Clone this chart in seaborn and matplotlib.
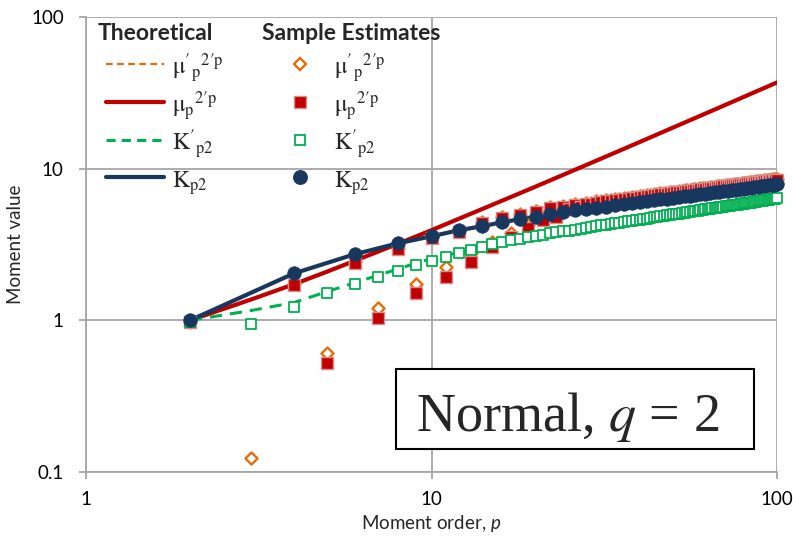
import numpy as np
import pandas as pd
import matplotlib
matplotlib.use("Agg")
import matplotlib.pyplot as plt
import seaborn as sns
from matplotlib.lines import Line2D
from matplotlib.patches import Rectangle
from matplotlib.font_manager import FontProperties
from matplotlib.ticker import NullLocator

# ---------------- data ----------------
p_all = list(range(2, 101))
p_even = list(range(2, 101, 2))

# Sample estimates
mu_raw_sample = [0.98, 0.123, 1.73, 0.61, 2.42, 1.20, 2.99, 1.73, 3.54, 2.24,
                 3.86, 2.80, 4.44, 3.28, 4.79, 3.78, 5.02, 4.27, 5.26, 4.80,
                 5.58, 5.00, 5.70, 5.55, 5.84, 5.75, 5.96, 5.93, 6.08,
                 6.14, 6.19, 6.25, 6.30, 6.35, 6.40, 6.45, 6.50, 6.55, 6.60,
                 6.65, 6.69, 6.74, 6.78, 6.82, 6.87, 6.91, 6.95, 6.99, 7.03,
                 7.07, 7.11, 7.15, 7.19, 7.22, 7.26, 7.30, 7.33, 7.37, 7.40,
                 7.44, 7.47, 7.51, 7.54, 7.57, 7.61, 7.64, 7.67, 7.70, 7.74,
                 7.77, 7.80, 7.83, 7.86, 7.89, 7.92, 7.95, 7.98, 8.01, 8.03,
                 8.06, 8.09, 8.12, 8.15, 8.17, 8.20, 8.23, 8.26, 8.28, 8.31,
                 8.33, 8.36, 8.39, 8.41, 8.44, 8.46, 8.49, 8.51, 8.54, 8.56]

mu_sample = [0.97, np.nan, 1.70, 0.52, 2.38, 1.03, 2.94, 1.51, 3.48, 1.92,
             3.80, 2.42, 4.37, 3.03, 4.71, 3.53, 4.94, 4.05, 5.17, 4.57,
             5.49, 4.79, 5.61, 5.40, 5.74, 5.62, 5.86, 5.82, 5.98,
             6.04, 6.09, 6.15, 6.20, 6.25, 6.30, 6.35, 6.40, 6.45, 6.50,
             6.55, 6.59, 6.64, 6.68, 6.72, 6.77, 6.81, 6.85, 6.89, 6.93,
             6.97, 7.01, 7.05, 7.09, 7.12, 7.16, 7.20, 7.23, 7.27, 7.30,
             7.34, 7.37, 7.41, 7.44, 7.47, 7.51, 7.54, 7.57, 7.60, 7.64,
             7.67, 7.70, 7.73, 7.76, 7.79, 7.82, 7.85, 7.88, 7.91, 7.93,
             7.96, 7.99, 8.02, 8.05, 8.07, 8.10, 8.13, 8.16, 8.18, 8.21,
             8.23, 8.26, 8.29, 8.31, 8.34, 8.36, 8.39, 8.41, 8.44, 8.46]

kprime_sample = [0.97, 0.95, 1.22, 1.51, 1.73, 1.92, 2.11, 2.31, 2.45, 2.60,
                 2.78, 2.91, 3.04, 3.17, 3.27, 3.37, 3.46, 3.54, 3.62,
                 3.68, 3.74, 3.80, 3.86, 3.91, 3.97, 4.02, 4.07, 4.12, 4.17,
                 4.22, 4.27, 4.31, 4.36, 4.40, 4.45, 4.49, 4.53, 4.57, 4.61,
                 4.65, 4.69, 4.73, 4.77, 4.81, 4.85, 4.88, 4.92, 4.95, 4.99,
                 5.02, 5.06, 5.09, 5.13, 5.16, 5.19, 5.22, 5.25, 5.29, 5.32,
                 5.35, 5.38, 5.41, 5.44, 5.47, 5.50, 5.53, 5.56, 5.58, 5.61,
                 5.64, 5.67, 5.70, 5.72, 5.75, 5.78, 5.80, 5.83, 5.86, 5.88,
                 5.91, 5.93, 5.96, 5.98, 6.01, 6.03, 6.06, 6.08, 6.10, 6.13,
                 6.15, 6.18, 6.20, 6.22, 6.24, 6.27, 6.29, 6.31, 6.34, 6.37]

k_sample = [1.00, 2.04, 2.73, 3.22, 3.58, 3.93, 4.17, 4.43, 4.64, 4.82,
            5.00, 5.17, 5.30, 5.41, 5.53, 5.63, 5.74, 5.83, 5.92, 6.02,
            6.10, 6.19, 6.27, 6.35, 6.43, 6.50, 6.58, 6.65, 6.72, 6.79,
            6.85, 6.92, 6.98, 7.05, 7.10, 7.16, 7.22, 7.28, 7.33, 7.39,
            7.44, 7.50, 7.55, 7.60, 7.66, 7.71, 7.76, 7.81, 7.85, 7.90]

# Theoretical curves
mu_theory_p = [2, 3, 4, 5, 6, 8, 10, 15, 20, 30, 40, 50, 60, 70, 80, 90, 100]
mu_theory = [1.00, 1.37, 1.73, 2.10, 2.47, 3.20, 3.93, 5.78, 7.61, 11.29,
             14.97, 18.66, 22.33, 26.00, 29.69, 33.36, 37.04]
mu_raw_theory = [1.00, 1.37, 1.73, 2.10, 2.47, 3.20, 3.93, 5.78, 7.61, 11.29,
                 14.97, 18.66, 22.33, 26.00, 29.69, 33.36, 37.04]

kprime_theory_p = [2, 3, 4, 5, 6, 7, 8, 9, 10, 12, 15, 20, 30, 40, 50, 60, 70, 80, 90, 100]
kprime_theory = [1.00, 1.16, 1.31, 1.55, 1.77, 1.98, 2.18, 2.38, 2.55, 2.80,
                 3.19, 3.63, 4.18, 4.62, 5.00, 5.33, 5.62, 5.89, 6.14, 6.38]

k_theory_p = [2, 4, 6, 8, 10, 12, 14, 16, 18, 20, 24, 30, 40, 50, 60, 70, 80, 90, 100]
k_theory = [1.00, 2.04, 2.73, 3.22, 3.58, 3.93, 4.17, 4.43, 4.64, 4.82,
            5.17, 5.53, 6.02, 6.43, 6.79, 7.10, 7.39, 7.66, 7.90]

x_ticks = [1, 10, 100]
x_tick_labels = ["1", "10", "100"]
y_ticks = [0.1, 1, 10, 100]
y_tick_labels = ["0.1", "1", "10", "100"]

# ---------------- style ----------------
ORANGE = "#E46C0A"
RED = "#C00000"
GREEN = "#00B050"
NAVY = "#17375E"
GRID = "#A6A6A6"
PINK = "#D98C8C"

sns.set_style("white")
plt.rcParams["font.family"] = ["Lato", "DejaVu Sans"]
plt.rcParams["mathtext.fontset"] = "custom"
plt.rcParams["mathtext.rm"] = "Lato"
plt.rcParams["mathtext.it"] = "Lato:italic"

W, H = 793, 540
fig = plt.figure(figsize=(W / 100, H / 100), dpi=100)
L, R, T, B = 86, 777, 17, 472
ax = fig.add_axes([L / W, 1 - B / H, (R - L) / W, (B - T) / H])
ax.set_xscale("log")
ax.set_yscale("log")
ax.set_xlim(1, 100)
ax.set_ylim(0.1, 100)

# ---------------- theoretical lines ----------------
sns.lineplot(x=mu_theory_p, y=mu_raw_theory, ax=ax, color=ORANGE, lw=1.6,
             linestyle=(0, (3, 2)), estimator=None, sort=False, zorder=2)
sns.lineplot(x=mu_theory_p, y=mu_theory, ax=ax, color=RED, lw=3.0,
             estimator=None, sort=False, zorder=2.1)
sns.lineplot(x=kprime_theory_p, y=kprime_theory, ax=ax, color=GREEN, lw=2.2,
             linestyle=(0, (4, 2.6)), estimator=None, sort=False, zorder=2.2)
sns.lineplot(x=k_theory_p, y=k_theory, ax=ax, color=NAVY, lw=3.0,
             estimator=None, sort=False, zorder=2.3)

# ---------------- sample estimates ----------------
sns.scatterplot(x=p_all, y=mu_raw_sample, ax=ax, marker="D", s=38,
                color="white", edgecolor=ORANGE, linewidth=1.7, zorder=3,
                clip_on=False)
sns.scatterplot(x=p_all, y=mu_sample, ax=ax, marker="s", s=70,
                color=RED, edgecolor=PINK, linewidth=1.0, zorder=3.1,
                clip_on=False)
sns.scatterplot(x=p_all, y=kprime_sample, ax=ax, marker="s", s=58,
                color="white", edgecolor=GREEN, linewidth=1.3, zorder=3.2,
                clip_on=False)
sns.scatterplot(x=p_even, y=k_sample, ax=ax, marker="o", s=95,
                color=NAVY, edgecolor=NAVY, linewidth=0.5, zorder=3.3,
                clip_on=False)

# ---------------- axes ----------------
ax.set_xticks(x_ticks)
ax.set_xticklabels(x_tick_labels)
ax.set_yticks(y_ticks)
ax.set_yticklabels(y_tick_labels)
ax.xaxis.set_minor_locator(NullLocator())
ax.yaxis.set_minor_locator(NullLocator())
ax.grid(True, which="major", color=GRID, lw=1.3, zorder=0)
ax.set_axisbelow(True)
for s in ["top", "right"]:
    ax.spines[s].set_visible(False)
for s in ["left", "bottom"]:
    ax.spines[s].set_color(GRID)
    ax.spines[s].set_linewidth(1.3)
ax.tick_params(axis="both", which="major", bottom=True, left=True,
               direction="out", length=5, width=1.3, color=GRID,
               labelsize=13.5, labelcolor="black")
ax.tick_params(axis="y", pad=11)
ax.tick_params(axis="x", pad=9)
ax.set_ylabel("Moment value", fontsize=13.5, labelpad=5)
ax.set_xlabel(r"Moment order, $p$", fontsize=13.5, labelpad=3)

# ---------------- legends ----------------
fp = FontProperties(family="STIXGeneral", size=17, math_fontfamily="stix")
lab_mu_raw = r"$\mathrm{\mu'}_{\mathrm{p}}{}^{2\prime\mathrm{p}}$"
lab_mu = r"$\mathrm{\mu}_{\mathrm{p}}{}^{2\prime\mathrm{p}}$"
lab_kprime = r"$\mathrm{K'}_{\mathrm{p2}}$"
lab_k = r"$\mathrm{K}_{\mathrm{p2}}$"
labels = [lab_mu_raw, lab_mu, lab_kprime, lab_k]

h_theory = [
    Line2D([], [], color=ORANGE, lw=1.6, linestyle=(0, (3, 2))),
    Line2D([], [], color=RED, lw=3.0),
    Line2D([], [], color=GREEN, lw=2.2, linestyle=(0, (3, 2))),
    Line2D([], [], color=NAVY, lw=3.0),
]
h_sample = [
    Line2D([], [], ls="none", marker="D", ms=6.2, mfc="white", mec=ORANGE, mew=1.7),
    Line2D([], [], ls="none", marker="s", ms=8.2, mfc=RED, mec=PINK, mew=1.0),
    Line2D([], [], ls="none", marker="s", ms=7.6, mfc="white", mec=GREEN, mew=1.3),
    Line2D([], [], ls="none", marker="o", ms=9.7, mfc=NAVY, mec=NAVY),
]

leg_kw = dict(loc="upper left", bbox_transform=fig.transFigure, frameon=False,
              prop=fp, handleheight=1.5, labelspacing=0.19, borderpad=0,
              borderaxespad=0)
leg1 = ax.legend(handles=h_theory, labels=labels,
                 bbox_to_anchor=(106 / W, 1 - 52 / H),
                 handlelength=2.45, handletextpad=0.35, **leg_kw)
ax.add_artist(leg1)
leg2 = ax.legend(handles=h_sample, labels=labels,
                 bbox_to_anchor=(281 / W, 1 - 52 / H),
                 handlelength=1.65, handletextpad=0.6, **leg_kw)
leg1.set_zorder(7)
leg2.set_zorder(7)

fig.text(98 / W, 1 - 33 / H, "Theoretical", fontsize=16.5, fontweight="bold",
         ha="left", va="center")
fig.text(262 / W, 1 - 33 / H, "Sample Estimates", fontsize=16.5, fontweight="bold",
         ha="left", va="center")

# ---------------- annotation box ----------------
bx0 = (396 - L) / (R - L)
bx1 = (754 - L) / (R - L)
by0 = (B - 449) / (B - T)
by1 = (B - 369) / (B - T)
ax.add_patch(Rectangle((bx0, by0), bx1 - bx0, by1 - by0, transform=ax.transAxes,
                       fc="white", ec="black", lw=1.5, zorder=6, clip_on=False))
ax.text((567.5 - L) / (R - L), (B - 431) / (B - T), r"Normal, $q$ = 2",
        transform=ax.transAxes, ha="center", va="baseline",
        family="Liberation Serif", math_fontfamily="stix", fontsize=39, zorder=7)

fig.savefig("out.png", dpi=100)
